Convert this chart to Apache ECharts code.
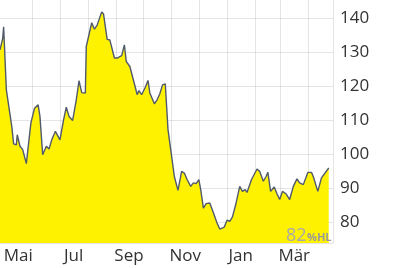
<!DOCTYPE html>
<html><head><meta charset="utf-8">
<script src="https://cdn.jsdelivr.net/npm/echarts@6/dist/echarts.min.js"></script>
<style>html,body{margin:0;padding:0;background:#fff}#c{width:400px;height:268px}</style>
</head><body><div id="c"></div>
<script>
const dates = [
'2024-04-26','2024-04-29','2024-04-30','2024-05-03','2024-05-05','2024-05-09','2024-05-11','2024-05-14','2024-05-15','2024-05-18',
'2024-05-21','2024-05-25','2024-05-30','2024-06-03','2024-06-07','2024-06-09','2024-06-12','2024-06-16','2024-06-19','2024-06-22',
'2024-06-26','2024-06-28','2024-07-01','2024-07-05','2024-07-08','2024-07-11','2024-07-15','2024-07-19','2024-07-22','2024-07-25',
'2024-07-29','2024-07-30','2024-08-01','2024-08-05','2024-08-08','2024-08-11','2024-08-16','2024-08-18','2024-08-22','2024-08-25',
'2024-08-30','2024-09-02','2024-09-07','2024-09-10','2024-09-12','2024-09-16','2024-09-22','2024-09-24','2024-09-26','2024-09-29',
'2024-10-03','2024-10-06','2024-10-08','2024-10-13','2024-10-16','2024-10-19','2024-10-22','2024-10-25','2024-10-26','2024-10-28',
'2024-11-01','2024-11-04','2024-11-08','2024-11-12','2024-11-15','2024-11-18','2024-11-22','2024-11-25','2024-11-28','2024-12-01',
'2024-12-03','2024-12-06','2024-12-09','2024-12-13','2024-12-17','2024-12-21','2024-12-24','2024-12-29','2025-01-01','2025-01-04',
'2025-01-07','2025-01-11','2025-01-15','2025-01-18','2025-01-21','2025-01-23','2025-01-28','2025-02-03','2025-02-06','2025-02-10',
'2025-02-13','2025-02-15','2025-02-18','2025-02-22','2025-02-25','2025-02-28','2025-03-03','2025-03-07','2025-03-11','2025-03-15',
'2025-03-19','2025-03-22','2025-03-26','2025-03-31','2025-04-04','2025-04-06','2025-04-11','2025-04-15','2025-04-17','2025-04-23'
];
const values = [
130.7,134.1,137.5,118.9,118.4,108.1,103.0,102.7,105.7,102.3,
101.3,97.2,109.1,113.5,114.5,111.1,99.8,102.3,101.5,104.2,
106.7,106.2,104.2,110.1,113.8,111.1,109.9,116.0,121.6,118.1,
118.0,131.7,132.2,138.7,136.8,138.0,141.9,141.3,133.8,133.6,
128.3,128.3,129.0,132.2,127.3,125.8,119.7,117.5,118.7,117.5,
119.7,121.7,118.0,114.8,116.0,117.8,120.4,120.7,120.4,107.2,
99.3,93.4,89.3,94.9,94.4,92.5,90.5,91.5,91.3,92.5,
89.5,84.1,85.4,85.6,82.7,79.7,77.9,78.5,80.5,80.2,
81.5,85.6,90.5,89.0,89.5,88.7,92.5,95.6,94.9,92.0,
93.4,94.6,89.0,90.3,88.3,86.6,89.0,88.3,86.6,90.5,
92.7,91.5,91.0,94.6,94.6,93.4,89.0,93.0,93.1,95.9
];
const monthTickDates = ['2024-06-01','2024-07-01','2024-08-01','2024-09-01','2024-10-01','2024-11-01','2024-12-01','2025-01-01','2025-02-01','2025-03-01','2025-04-01'];
const monthLabelDates = ['2024-05-16','2024-07-16','2024-09-15','2024-11-16','2025-01-16','2025-03-16'];
const monthNames = ['Jan','Feb','Mär','Apr','Mai','Jun','Jul','Aug','Sep','Okt','Nov','Dez'];
const yTicks = [80,90,100,110,120,130,140];
const hlValue = '82';
const hlUnit = '%HL';

function ts(s){ const p = s.split('-').map(Number); return new Date(p[0], p[1]-1, p[2]).getTime(); }
const seriesData = dates.map((d,i)=>[ts(d), values[i]]);

const chart = echarts.init(document.getElementById('c'), null, {renderer:'canvas'});
const FONT = 'Open Sans';
chart.setOption({
  animation:false,
  grid:{left:0,right:67,top:0,bottom:25,containLabel:false},
  xAxis:{
    type:'value',
    min: ts('2024-04-26'),
    max: ts('2025-04-27') + 17*3600*1000,
    z:3,
    axisLine:{show:true,lineStyle:{color:'#e4e4e4',width:1}},
    axisTick:{show:false, customValues: monthTickDates.map(ts)},
    splitLine:{show:true,lineStyle:{color:'rgba(0,0,0,0.1)',width:1}},
    axisLabel:{
      customValues: monthLabelDates.map(ts),
      formatter: v => monthNames[new Date(v).getMonth()],
      color:'#333', fontFamily:FONT, fontSize:17, margin:5
    }
  },
  yAxis:{
    type:'value', position:'right',
    min:73.8, max:145.4,
    z:3,
    axisLine:{show:true,lineStyle:{color:'#e4e4e4',width:1}},
    axisTick:{show:false, customValues: yTicks},
    splitLine:{show:true,lineStyle:{color:'rgba(0,0,0,0.1)',width:1}},
    axisLabel:{customValues: yTicks, color:'#333', fontFamily:FONT, fontSize:17, margin:7}
  },
  series:[{
    type:'line', data:seriesData, showSymbol:false, symbol:'none',
    lineStyle:{color:'#505a6a',width:1.4},
    areaStyle:{color:'#fff200',opacity:1}
  }],
  graphic:[
    {type:'text', z:10, style:{text:hlValue, x:286, y:235.5, fill:'#a9a9a9', font:'18px "Open Sans"', textVerticalAlign:'middle'}},
    {type:'text', z:10, style:{text:hlUnit, x:307, y:238, fill:'#9a9a9a', font:'bold 11px "Open Sans"', textVerticalAlign:'middle'}}
  ]
});
</script></body></html>
